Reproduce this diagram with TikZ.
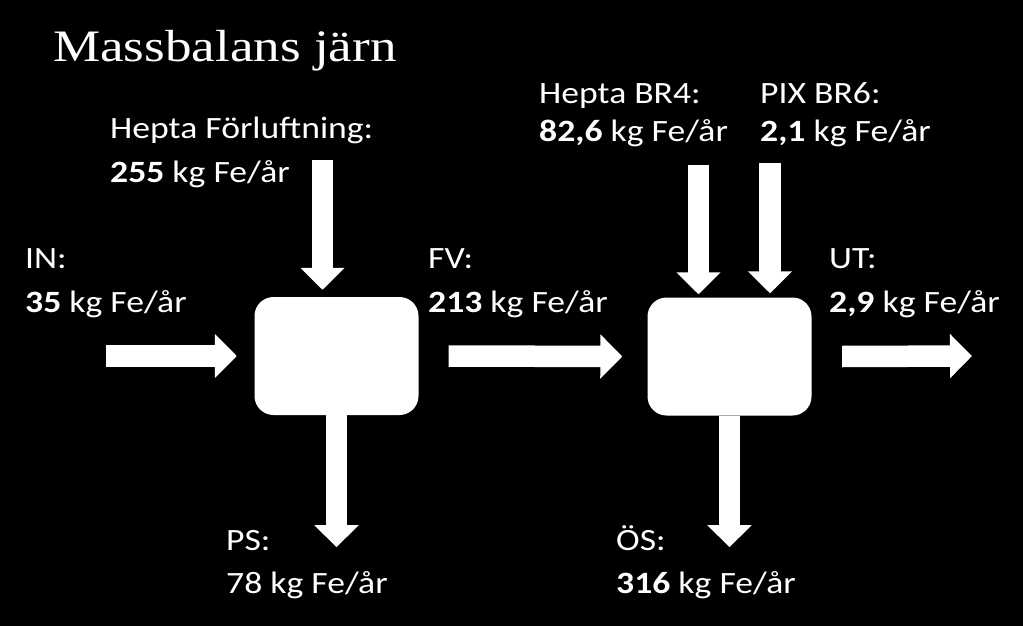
\documentclass[tikz,border=0pt]{standalone}
\usepackage{fontspec}
\setmainfont{Carlito}[FakeStretch=1.15]
\newfontfamily\titlefont{Liberation Serif}[FakeStretch=1.18]
\usetikzlibrary{arrows.meta,calc}
\begin{document}
\begin{tikzpicture}[x=1pt,y=-1pt,
  lbl/.style={anchor=base west, inner sep=0pt, text=white, font=\fontsize{31}{37}\selectfont},
  ttl/.style={anchor=base west, inner sep=0pt, text=white, font=\titlefont\fontsize{45}{54}\selectfont},
  procbox/.style={fill=white, draw=none, rounded corners=19pt, minimum width=164pt, minimum height=118pt, inner sep=0pt},
  flow/.style={draw=white, line width=21.5pt, -{Triangle[width=43pt,length=22pt]}}]
\useasboundingbox (0,0) rectangle (1023,626);
\fill[black] (0,0) rectangle (1023,626);
% process boxes
\node[procbox] (b1) at (336.5,356) {};
\node[procbox] (b2) at (729.5,356.5) {};
% free ends
\coordinate (inS) at (106,356);
\coordinate (utE) at (972,356);
\coordinate (hfS) at (322.5,160);
\coordinate (br4S) at (698.5,165);
\coordinate (pxS) at (770,163);
\coordinate (psE) at ($(b1.south)+(0,132)$);
\coordinate (osE) at ($(b2.south)+(0,131.5)$);
% flows
\draw[flow] (inS) -- ([xshift=-17.5pt]b1.west);
\draw[flow] ([xshift=30pt]b1.east) -- ([xshift=-25pt]b2.west);
\draw[flow] ([xshift=30.5pt]b2.east) -- (utE);
\draw[flow, shorten >=7pt] (hfS) -- (hfS |- b1.north);
\draw[flow, shorten >=3pt] (br4S) -- (br4S |- b2.north);
\draw[flow, shorten >=4pt] (pxS) -- (pxS |- b2.north);
\draw[flow] (b1.south) -- (psE);
\draw[flow] (b2.south) -- (osE);
% texts
\node[ttl] (title) at (53,62) {Massbalans järn};
\node[lbl] (hfA) at (110,138) {Hepta Förluftning:};
\node[lbl] (hfB) at (110,182) {\textbf{255} kg Fe/år};
\node[lbl] (inA) at (25,268) {IN:};
\node[lbl] (inB) at (25,312) {\textbf{35} kg Fe/år};
\node[lbl] (fvA) at (428,268) {FV:};
\node[lbl] (fvB) at (428,312) {\textbf{213} kg Fe/år};
\node[lbl] (utA) at (829,268) {UT:};
\node[lbl] (utB) at (829,312) {\textbf{2,9} kg Fe/år};
\node[lbl] (b4A) at (539,103) {Hepta BR4:};
\node[lbl] (b4B) at (539,141) {\textbf{82,6} kg Fe/år};
\node[lbl] (pxA) at (760,103) {PIX BR6:};
\node[lbl] (pxB) at (760,141) {\textbf{2,1} kg Fe/år};
\node[lbl] (psA) at (226,550) {PS:};
\node[lbl] (psB) at (226,593) {78 kg Fe/år};
\node[lbl] (osA) at (616,550) {ÖS:};
\node[lbl] (osB) at (616,593) {\textbf{316} kg Fe/år};
\end{tikzpicture}
\end{document}
